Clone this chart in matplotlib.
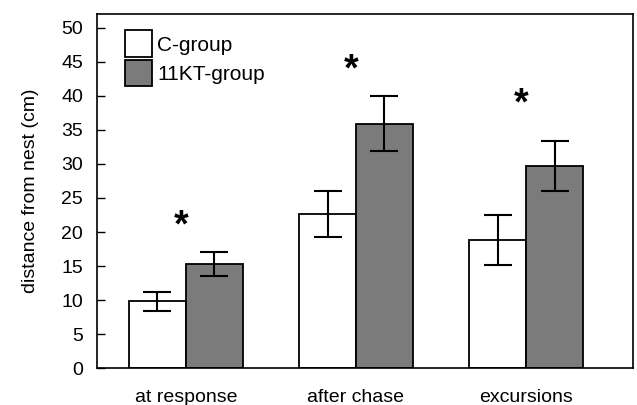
import numpy as np
import matplotlib
matplotlib.use("Agg")
import matplotlib.pyplot as plt

plt.rcParams['font.family'] = ['Liberation Sans', 'DejaVu Sans']

# data
categories = ["at response", "after chase", "excursions"]
c_group    = [9.8, 22.6, 18.8]
c_err      = [1.35, 3.4, 3.7]
kt_group   = [15.3, 35.9, 29.7]
kt_err     = [1.75, 4.05, 3.7]
star_y     = [20.8, 43.8, 38.8]

fig = plt.figure(figsize=(6.37, 4.05), dpi=100)
ax = fig.add_axes([0.152, 0.091, 0.842, 0.874])

x = np.arange(len(categories))
w = 0.335
err_kw = dict(ecolor="black", elinewidth=1.5, capsize=10, capthick=1.5)
ax.bar(x - w/2, c_group, w, yerr=c_err, color="white", edgecolor="black",
       linewidth=1.3, label="C-group", error_kw=err_kw)
ax.bar(x + w/2, kt_group, w, yerr=kt_err, color="#7b7b7b", edgecolor="black",
       linewidth=1.3, label="11KT-group", error_kw=err_kw)

for xi, yi in zip(x, star_y):
    ax.text(xi - 0.03, yi, "*", ha="center", va="center", fontsize=27,
            fontweight="bold")

ax.set_xlim(-0.524, 2.63)
ax.set_ylim(0, 52)
ax.set_yticks(range(0, 51, 5))
ax.set_xticks(x)
ax.set_xticklabels(categories)
ax.tick_params(axis="y", direction="in", length=6, width=1, labelsize=14, pad=10)
ax.tick_params(axis="x", length=0, labelsize=14, pad=15)
ax.set_ylabel("distance from nest (cm)", fontsize=14, labelpad=16)
for s in ax.spines.values():
    s.set_linewidth(1.2)

ax.legend(loc="upper left", bbox_to_anchor=(0.037, 0.978), frameon=False,
          fontsize=15, handlelength=1.3, handleheight=1.6, handletextpad=0.25,
          labelspacing=0.12, borderaxespad=0)

fig.savefig("out.png", dpi=100)
